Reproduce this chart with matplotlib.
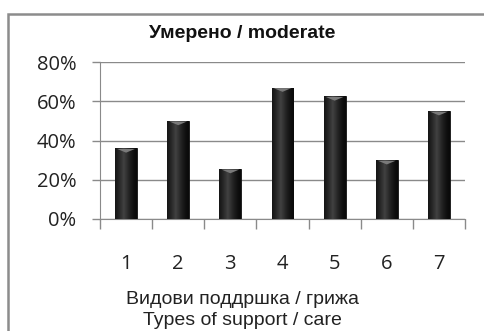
import numpy as np
import matplotlib.pyplot as plt
from matplotlib.patches import Rectangle, Polygon

categories = ['1', '2', '3', '4', '5', '6', '7']
values = [0.36, 0.50, 0.255, 0.67, 0.625, 0.30, 0.55]
yticks = [0, 0.2, 0.4, 0.6, 0.8]
ytick_labels = ['0%', '20%', '40%', '60%', '80%']
title = 'Умерено / moderate'
xlabel = 'Видови поддршка / грижа\nTypes of support / care'

fig = plt.figure(figsize=(4.84, 3.31), dpi=100)
fig.patch.set_facecolor('white')

# outer chart frame (runs off right/bottom edges like the original crop)
frame = Rectangle((8 / 484, -0.05), 1.0, 1 - 14 / 331 + 0.05, transform=fig.transFigure,
                  fill=False, edgecolor='#8c8c8c', linewidth=1.8)
fig.patches.append(frame)

ax = fig.add_axes([100 / 484, 1 - 219 / 331, 365 / 484, 157 / 331])
x = np.arange(len(categories))
ax.set_xlim(-0.5, len(categories) - 0.5)
ax.set_ylim(0, 0.8)

# gradient bars
grad = np.linspace(0, 1, 64)
shade = 0.04 + 0.22 * (1 - np.abs(grad - 0.4) / 0.6) ** 1.5
img = np.tile(shade, (2, 1))
width = 0.42
bars = ax.bar(x, values, width=width, color='#1c1c1c', edgecolor='#111111', linewidth=0.6, zorder=2)
for b, v in zip(bars, values):
    x0 = b.get_x()
    im = ax.imshow(img, extent=[x0, x0 + width, 0, v], aspect='auto', cmap='gray',
                   vmin=0, vmax=1, zorder=3, interpolation='bilinear')
    im.set_clip_path(b)
    cap = Polygon([[x0 + 0.04, v - 0.003], [x0 + width - 0.04, v - 0.003],
                   [x0 + width / 2, v - 0.022]], closed=True,
                  facecolor='#7a7a7a', edgecolor='none', zorder=4)
    ax.add_patch(cap)

ax.set_yticks(yticks)
ax.set_yticklabels(ytick_labels, fontfamily='Open Sans', fontsize=14.5, color='#222222')
ax.grid(axis='y', color='#8a8a8a', linewidth=1.0, zorder=0)
ax.tick_params(axis='y', length=6, width=1.0, color='#8a8a8a', pad=11)

ax.set_xticks(x)
ax.set_xticklabels(categories, fontfamily='Open Sans', fontsize=14.5, color='#222222')
ax.set_xticks(np.arange(len(categories) + 1) - 0.5, minor=True)
ax.tick_params(axis='x', which='major', length=0, pad=25)
ax.tick_params(axis='x', which='minor', length=7, width=1.0, color='#8a8a8a')

for side in ['top', 'right']:
    ax.spines[side].set_visible(False)
ax.spines['left'].set_color('#8a8a8a')
ax.spines['bottom'].set_color('#8a8a8a')
ax.set_facecolor('white')

fig.text(0.5, 1 - 34 / 331, title, ha='center', va='center', fontfamily='Liberation Sans',
         fontweight='bold', fontsize=14, color='#111111')
fig.text(0.5, 1 - 310 / 331, xlabel, ha='center', va='center', fontfamily='Liberation Sans',
         fontsize=14, color='#222222', linespacing=1.35)

fig.savefig('out.png', dpi=100)
